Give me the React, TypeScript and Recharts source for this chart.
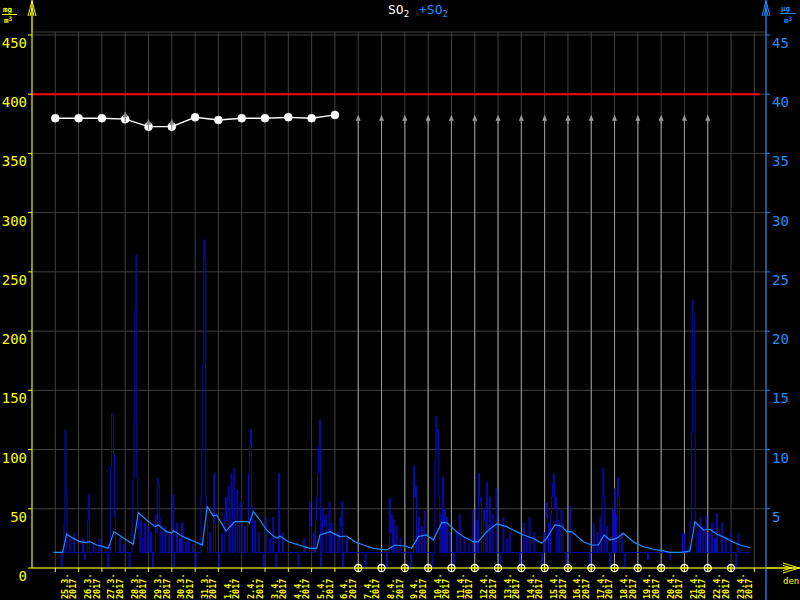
import React from 'react';
import { ComposedChart, Line, XAxis, YAxis, CartesianGrid, ReferenceLine, Scatter } from 'recharts';

// Day labels (each day starts at tick k*24 hours)
const DAYS = [
  '25.3.', '26.3.', '27.3.', '28.3.', '29.3.', '30.3.', '31.3.',
  '1.4.', '2.4.', '3.4.', '4.4.', '5.4.', '6.4.', '7.4.', '8.4.', '9.4.', '10.4.',
  '11.4.', '12.4.', '13.4.', '14.4.', '15.4.', '16.4.', '17.4.', '18.4.', '19.4.',
  '20.4.', '21.4.', '22.4.', '23.4.',
];
const YEAR = '2017';
const LEFT_TICKS = [0, 50, 100, 150, 200, 250, 300, 350, 400, 450];
const RIGHT_TICKS = [5, 10, 15, 20, 25, 30, 35, 40, 45];
const LIMIT = 400;

// Daily values (white points, left axis), day index 0..12
const DAILY_SO2 = [379.7, 379.7, 379.7, 378.9, 372.6, 372.6, 380.5, 378.2, 379.7, 379.7, 380.5, 379.7, 382.5];
const MARK_ARROW_DAYS = [3, 4, 5];
const OVER_DAYS = [13, 14, 15, 16, 17, 18, 19, 20, 21, 22, 23, 24, 25, 26, 27, 28];
const OVER_LEVEL = 381;
const MISSING_DAYS = [13, 14, 15, 16, 17, 18, 19, 20, 21, 22, 23, 24, 25, 26, 27, 28, 29];

// Hourly SO2 in ug/m3 (right axis): [hour since 25.3. 0:00, value]
const SO2_HOURLY: [number, number][] = [
  [-2, 1.3], [6, 0], [7, 1.3], [9, 3.9], [10, 11.7], [11, 6.6], [12, 1.3], [15, 2.5], [16, 1.3], [19, 2.9], [20, 1.3],
  [28, 2.5], [29, 1.3], [30, 0.7], [31, 1.3], [33, 4.0], [34, 6.2], [35, 1.3], [39, 2.0], [40, 1.3], [45, 2.4], [47, 1.3],
  [54, 0], [55, 1.3], [57, 8.6], [58, 13.0], [60, 9.6], [61, 4.3], [62, 1.3], [66, 2.5], [67, 1.3], [70, 2.0], [71, 1.3],
  [76, 0], [77, 1.3], [79, 4.0], [80, 7.6], [81, 12.2], [82, 21.8], [83, 26.4], [84, 7.6], [85, 4.3], [86, 3.0], [87, 1.3],
  [88, 4.0], [89, 2.5], [90, 1.3], [92, 3.8], [93, 1.3], [95, 3.5], [96, 1.3],
  [98, 3.0], [99, 1.3], [100, 0], [101, 1.3], [103, 4.5], [104, 3.0], [105, 7.6], [106, 7.2], [107, 4.3], [108, 1.3],
  [110, 3.0], [111, 1.3], [113, 3.5], [114, 1.3], [117, 2.8], [118, 1.3],
  [121, 6.2], [122, 0], [123, 1.3], [125, 3.8], [126, 1.3], [128, 2.5], [129, 1.3], [130, 3.8], [131, 1.3],
  [134, 2.2], [135, 1.3], [137, 2.5], [138, 1.3], [141, 2.0], [142, 1.3], [144, 0], [145, 1.3],
  [150, 6.0], [151, 10.0], [152, 17.3], [153, 27.7], [154, 25.9], [155, 6.0], [156, 4.0], [157, 1.3], [159, 3.0], [160, 1.3],
  [163, 8.0], [164, 3.8], [165, 1.3], [168, 0], [169, 1.3],
  [171, 2.9], [172, 1.3], [174, 4.5], [175, 6.0], [176, 4.0], [177, 6.0], [178, 6.9], [179, 1.3], [180, 5.0], [181, 8.0],
  [182, 1.3], [183, 7.0], [184, 8.4], [185, 1.3], [186, 4.5], [187, 6.6], [188, 1.3], [190, 4.0], [191, 5.6], [192, 1.3],
  [195, 3.5], [196, 1.3], [198, 4.0], [199, 8.0], [200, 10.3], [201, 11.7], [202, 5.2], [203, 1.3], [205, 4.0], [206, 1.3],
  [209, 3.0], [210, 1.3], [214, 0], [215, 1.3],
  [217, 4.3], [218, 1.3], [221, 2.5], [222, 1.3], [224, 4.3], [225, 1.3], [227, 0], [228, 1.3], [230, 8.0], [231, 1.3],
  [234, 3.0], [235, 1.3],
  [250, 0], [251, 1.3], [256, 2.5], [257, 1.3], [262, 5.6], [263, 3.5], [264, 1.3],
  [266, 3.0], [267, 1.3], [268, 4.0], [269, 6.0], [270, 8.0], [271, 10.2], [272, 12.5], [273, 0], [274, 1.3], [275, 5.0],
  [276, 4.3], [277, 3.5], [278, 4.5], [279, 1.3], [282, 5.6], [283, 1.3], [284, 3.8], [285, 1.3], [287, 2.8], [288, 1.3],
  [291, 3.0], [292, 1.3], [293, 4.3], [294, 3.5], [295, 5.6], [296, 0], [297, 1.3], [300, 2.5], [301, 1.3], [319, 0], [320, 1.3],
  [341, 0], [342, 1.3], [344, 5.9], [345, 3.0], [346, 4.5], [347, 1.3], [348, 4.1], [349, 1.3], [351, 3.5], [352, 1.3],
  [355, 2.5], [356, 1.3],
  [366, 0], [367, 1.3], [369, 8.6], [370, 6.0], [371, 6.9], [372, 1.3], [374, 4.3], [375, 1.3], [377, 3.5], [378, 1.3],
  [380, 4.8], [381, 1.3],
  [388, 0], [389, 1.3], [391, 9.0], [392, 12.8], [393, 10.0], [394, 11.7], [395, 6.0], [396, 1.3], [397, 4.5], [398, 1.3],
  [399, 7.7], [400, 1.3], [401, 5.0], [402, 1.3], [403, 4.3], [404, 1.3], [406, 3.0], [407, 1.3],
  [410, 0], [411, 1.3], [413, 3.0], [414, 1.3], [416, 4.5], [417, 1.3], [421, 2.5], [422, 1.3], [426, 2.0], [427, 1.3],
  [430, 4.9], [431, 1.3],
  [434, 4.0], [435, 1.3], [436, 8.0], [437, 6.0], [438, 5.6], [439, 1.3], [441, 5.0], [442, 4.0], [443, 1.3], [444, 7.2],
  [445, 1.3], [447, 6.0], [448, 1.3], [450, 4.5], [451, 1.3], [454, 6.7], [455, 1.3],
  [458, 0], [459, 1.3], [461, 4.3], [462, 1.3], [465, 2.5], [466, 1.3], [468, 3.0], [469, 1.3],
  [478, 0], [479, 1.3], [482, 3.8], [483, 1.3], [485, 2.5], [486, 1.3], [488, 4.3], [489, 1.3],
  [493, 3.0], [494, 1.3], [501, 0], [502, 1.3], [503, 3.0], [504, 1.3], [505, 4.3], [506, 5.5], [507, 3.8], [508, 1.3],
  [510, 4.5], [511, 6.0], [512, 7.2], [513, 8.0], [514, 5.0], [515, 6.0], [516, 1.3], [518, 4.0], [519, 1.3],
  [521, 4.9], [522, 3.8], [523, 1.3], [526, 0], [527, 1.3], [530, 5.2], [531, 1.3],
  [550, 0], [551, 1.3], [554, 3.8], [555, 1.3], [558, 3.0], [559, 1.3], [561, 4.3], [562, 1.3], [563, 6.0], [564, 8.4],
  [565, 6.0], [566, 1.3], [568, 3.5], [569, 1.3], [571, 0], [572, 1.3], [574, 5.0], [575, 1.3], [576, 6.7], [577, 1.3],
  [578, 4.5], [579, 7.6], [580, 6.0], [581, 1.3], [583, 3.0], [584, 1.3], [586, 0], [587, 1.3],
  [610, 0.7], [611, 1.3], [633, 0.7], [634, 1.3], [646, 2.9], [648, 1.3],
  [653, 3.0], [654, 3.8], [655, 11.4], [656, 22.6], [657, 21.5], [658, 15.9], [659, 3.8], [660, 1.3], [662, 3.0], [663, 1.3],
  [664, 4.3], [665, 1.3], [667, 3.5], [668, 1.3], [670, 4.4], [671, 1.3], [673, 3.0], [674, 1.3], [676, 3.8], [677, 1.3],
  [679, 2.5], [680, 1.3], [681, 4.6], [682, 1.3], [686, 3.8], [687, 1.3], [690, 2.5], [691, 1.3], [695, 2.9], [696, 1.3],
  [701, 0], [702, 1.3], [703, 2.9], [704, 1.3], [716, 1.3],
];

// Running mean in ug/m3 (right axis): [hour, value]
const SO2_MEAN: [number, number][] = [
  [-2, 1.32], [7.5, 1.32], [11.7, 2.87], [18.5, 2.50], [25.4, 2.22], [32, 2.15], [35, 2.25], [40, 2.05],
  [42.6, 1.94], [49.4, 1.80], [54.6, 1.66], [60.4, 3.07], [78.6, 2.08], [80.3, 2.00],
  [85.5, 4.67], [94.1, 4.05], [102.6, 3.49], [106.1, 3.63], [114.6, 3.07], [119.8, 2.93],
  [121.5, 3.15], [128.4, 2.79], [135.2, 2.50], [143.8, 2.22], [151.4, 1.94],
  [156.5, 5.18], [162.7, 4.39], [166.1, 4.47], [171.3, 3.77], [175.8, 3.12], [181.6, 3.63],
  [185, 3.91], [198.8, 3.91], [199.8, 3.77], [203.9, 4.76], [210.8, 4.05], [217.6, 3.21],
  [224.5, 2.70], [228.6, 2.50], [231.4, 2.70], [240, 2.22],
  [262.3, 1.66], [269.2, 1.66], [272.6, 2.79], [282.9, 3.07], [293.2, 2.65], [300.1, 2.70],
  [308.6, 2.22], [317.2, 1.94], [327.5, 1.66], [341.3, 1.52], [349.8, 1.94], [360.1, 1.86],
  [367, 1.66], [373.9, 2.65], [382.4, 2.79], [389.3, 2.36], [397.9, 3.83], [403, 3.83],
  [413.3, 3.07], [420.2, 2.65], [430.5, 2.22], [435.7, 2.22], [444.2, 3.07], [454.5, 3.72],
  [464.8, 3.49], [475.1, 3.07], [482, 2.79], [492.3, 2.50], [500.9, 2.08], [506.1, 2.50],
  [514.6, 3.63], [521.5, 3.55], [526.7, 3.07], [531.8, 3.07], [543.8, 2.22], [552.4, 1.94],
  [559.3, 1.94], [565.1, 2.79], [571.3, 2.36], [578.2, 2.50], [585, 2.93], [595.3, 2.22],
  [605.6, 1.80], [615.9, 1.58], [626.2, 1.44], [633.1, 1.32], [645.1, 1.32], [653.7, 1.44],
  [658.8, 3.91], [667.4, 3.21], [674.3, 3.27], [681.1, 2.87], [691.4, 2.50], [694.9, 2.30],
  [705.2, 1.94], [715.5, 1.72],
];

const YELLOW = '#ffff00';
const BLUE = '#1e8cff';
const DARK = '#0c0cb8';
const GRID = '#404040';
const FONT = '"DejaVu Sans Mono", monospace';

const hourlyData = SO2_HOURLY.map(([h, v]) => ({ h, v }));
const meanData = SO2_MEAN.map(([h, v]) => ({ h, v }));
const dailyData = DAILY_SO2.map((v, i) => ({ h: i * 24, v }));
const markData = MARK_ARROW_DAYS.map((k) => ({ h: k * 24, v: DAILY_SO2[k] }));
const overData = OVER_DAYS.map((k) => ({ h: k * 24, v: OVER_LEVEL }));
const missData = MISSING_DAYS.map((k) => ({ h: k * 24, v: 0 }));
const xTicks = [...DAYS.map((_, i) => i * 24), DAYS.length * 24];

const XTick = (props: any) => {
  const { x, payload } = props;
  const i = Math.round(payload.value / 24);
  if (i >= DAYS.length) return <g />;
  return (
    <g fill={YELLOW} fontSize={8.5} fontFamily={FONT} fontWeight="bold">
      <text transform={`translate(${x + 12.5},599) rotate(-90)`}>{DAYS[i]}</text>
      <text transform={`translate(${x + 21},599) rotate(-90)`}>{YEAR}</text>
    </g>
  );
};

const LeftTick = (props: any) => {
  const { x, y, payload } = props;
  return (
    <text x={x + 1} y={y + 13} textAnchor="end" fill={YELLOW} fontSize={14} fontFamily={FONT}>
      {payload.value}
    </text>
  );
};

const RightTick = (props: any) => {
  const { x, y, payload } = props;
  return (
    <text x={x} y={y + 13} textAnchor="start" fill={BLUE} fontSize={14} fontFamily={FONT}>
      {payload.value}
    </text>
  );
};

const OverArrow = (props: any) => {
  const { cx, cy } = props;
  return (
    <path d={`M${cx - 2.5},${cy + 4} L${cx},${cy - 2} L${cx + 2.5},${cy + 4} Z M${cx - 0.5},${cy + 4} h1 v3 h-1 Z`} fill="#9a9a9a" />
  );
};

const MarkArrow = (props: any) => {
  const { cx, cy } = props;
  return (
    <g>
      <path d={`M${cx - 2.5},${cy - 2} L${cx},${cy - 8} L${cx + 2.5},${cy - 2} Z`} fill="#8a8a8a" />
      <line x1={cx} x2={cx} y1={cy - 3} y2={cy + 3} stroke="#8a8a8a" strokeWidth={1.2} />
    </g>
  );
};

const MissMark = (props: any) => {
  const { cx, cy } = props;
  return (
    <g>
      <circle cx={cx} cy={cy} r={3.5} fill="none" stroke="#ffffff" strokeWidth={1.3} />
      <line x1={cx} x2={cx} y1={cy - 3} y2={cy + 3} stroke={YELLOW} strokeWidth={1} />
      <line x1={cx - 3} x2={cx + 3} y1={cy} y2={cy} stroke={YELLOW} strokeWidth={1} />
    </g>
  );
};

const Overlay = () => (
  <svg width={800} height={600} style={{ position: 'absolute', left: 0, top: 0, pointerEvents: 'none' }}>
    <line x1={32} x2={32} y1={0} y2={32} stroke={YELLOW} strokeWidth={1.3} />
    <path d="M28,16 L32,1 L36,16 M30,16 L32,8 L34,16" stroke={YELLOW} fill="none" strokeWidth={1} />
    <line x1={766} x2={766} y1={0} y2={32} stroke={BLUE} strokeWidth={1.3} />
    <line x1={766} x2={766} y1={568} y2={600} stroke={BLUE} strokeWidth={1.3} />
    <path d="M762,16 L766,1 L770,16 M764,16 L766,8 L768,16" stroke={BLUE} fill="none" strokeWidth={1} />
    <line x1={766} x2={800} y1={568} y2={568} stroke={YELLOW} strokeWidth={1.3} />
    <path d="M783,563 L799,568 L783,573 M783,565.5 L792,568 L783,570.5" stroke={YELLOW} fill="none" strokeWidth={1} />
    <text x={783} y={584} fill={YELLOW} fontSize={9} fontFamily={FONT}>den</text>
    <g fill={YELLOW} fontFamily={FONT} fontSize={7.5} fontWeight="bold">
      <text x={3} y={12}>mg</text>
      <line x1={2} x2={17} y1={14.5} y2={14.5} stroke={YELLOW} strokeWidth={1} />
      <text x={4} y={23}>m<tspan fontSize={6} dy={-2}>3</tspan></text>
    </g>
    <g fill={BLUE} fontFamily={FONT} fontSize={7.5} fontWeight="bold">
      <text x={781} y={11}>μg</text>
      <line x1={780} x2={796} y1={13.5} y2={13.5} stroke={BLUE} strokeWidth={1} />
      <text x={784} y={23}>m<tspan fontSize={6} dy={-2}>3</tspan></text>
    </g>
    <text x={388} y={14} fill="#ffffff" fontSize={13} fontFamily={FONT}>
      SO<tspan fontSize={9} dy={3}>2</tspan>
    </text>
    <text x={419} y={14} fill={BLUE} fontSize={13} fontFamily={FONT}>
      +SO<tspan fontSize={9} dy={3}>2</tspan>
    </text>
  </svg>
);

export default function App() {
  return (
    <div style={{ position: 'absolute', left: 0, top: 0, width: 800, height: 600, background: '#000' }}>
      <ComposedChart width={800} height={600} margin={{ top: 32, right: 0, bottom: 0, left: 0 }}>
        <CartesianGrid stroke={GRID} strokeWidth={1} yAxisId="L" />
        <XAxis
          dataKey="h"
          type="number"
          domain={[-24, 732]}
          ticks={xTicks}
          interval={0}
          height={32}
          stroke={YELLOW}
          tickSize={4}
          tick={<XTick />}
        />
        <YAxis
          yAxisId="L"
          type="number"
          domain={[0, 452.5]}
          ticks={LEFT_TICKS}
          interval={0}
          width={32}
          stroke={YELLOW}
          tickSize={4}
          tick={<LeftTick />}
        />
        <YAxis
          yAxisId="R"
          orientation="right"
          type="number"
          domain={[0, 45.25]}
          ticks={RIGHT_TICKS}
          interval={0}
          width={34}
          stroke={BLUE}
          tickSize={4}
          tick={<RightTick />}
        />
        {OVER_DAYS.map((k) => (
          <ReferenceLine
            key={`o${k}`}
            yAxisId="L"
            segment={[{ x: k * 24, y: 0 }, { x: k * 24, y: OVER_LEVEL }]}
            stroke="#9a9a9a"
            strokeWidth={1}
          />
        ))}
        <Line
          yAxisId="R"
          data={hourlyData}
          dataKey="v"
          type="stepAfter"
          stroke={DARK}
          strokeWidth={1}
          dot={false}
          isAnimationActive={false}
        />
        <Line
          yAxisId="R"
          data={meanData}
          dataKey="v"
          type="linear"
          stroke={BLUE}
          strokeWidth={1.2}
          dot={false}
          isAnimationActive={false}
        />
        <ReferenceLine
          yAxisId="L"
          segment={[{ x: -24, y: LIMIT }, { x: 726, y: LIMIT }]}
          stroke="#ff0000"
          strokeWidth={2}
        />
        <Line
          yAxisId="L"
          data={dailyData}
          dataKey="v"
          type="linear"
          stroke="#ffffff"
          strokeWidth={1.3}
          dot={{ r: 4, fill: '#ffffff', stroke: '#ffffff', strokeWidth: 0.5 }}
          isAnimationActive={false}
        />
        <Scatter yAxisId="L" data={markData} dataKey="v" shape={<MarkArrow />} isAnimationActive={false} />
        <Scatter yAxisId="L" data={overData} dataKey="v" shape={<OverArrow />} isAnimationActive={false} />
        <Scatter yAxisId="L" data={missData} dataKey="v" shape={<MissMark />} isAnimationActive={false} />
      </ComposedChart>
      <Overlay />
    </div>
  );
}
